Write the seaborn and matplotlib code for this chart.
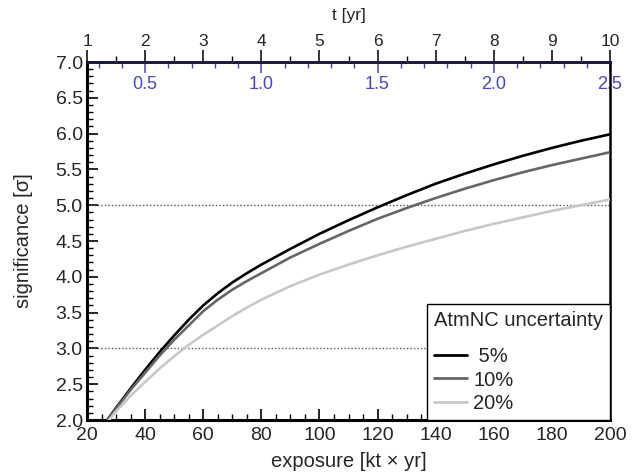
import numpy as np
import pandas as pd
import matplotlib
matplotlib.use("Agg")
import matplotlib.pyplot as plt
from matplotlib.ticker import MultipleLocator, FixedLocator, FormatStrFormatter
import seaborn as sns

# ---- data ----
exposure = [27, 30, 35, 40, 45, 50, 55, 60, 65, 70, 75, 80, 90, 100, 110, 120,
            130, 140, 150, 160, 170, 180, 190, 200]
sig_5 = [2.00, 2.17, 2.44, 2.70, 2.95, 3.18, 3.40, 3.60, 3.77, 3.92, 4.05, 4.17,
         4.39, 4.60, 4.79, 4.97, 5.14, 5.30, 5.44, 5.57, 5.69, 5.80, 5.90, 5.99]
sig_10 = [1.99, 2.16, 2.42, 2.66, 2.90, 3.12, 3.32, 3.52, 3.68, 3.82, 3.94, 4.05,
          4.27, 4.46, 4.64, 4.81, 4.96, 5.10, 5.23, 5.35, 5.46, 5.56, 5.65, 5.74]
sig_20 = [1.97, 2.12, 2.34, 2.53, 2.72, 2.89, 3.05, 3.19, 3.32, 3.45, 3.57, 3.68,
          3.87, 4.03, 4.17, 4.30, 4.42, 4.53, 4.64, 4.74, 4.83, 4.92, 5.00, 5.08]
labels = [" 5%", "10%", "20%"]
colors = ["#000000", "#666666", "#c8c8c8"]
ref_levels = [3.0, 5.0]
t_ticks = [1, 2, 3, 4, 5, 6, 7, 8, 9, 10]
t_minor = [1.5, 2.5, 3.5, 4.5, 5.5, 6.5, 7.5, 8.5, 9.5]
b_ticks = [0.5, 1.0, 1.5, 2.0, 2.5]
b_minor = [0.3, 0.4, 0.6, 0.7, 0.8, 0.9, 1.1, 1.2, 1.3, 1.4, 1.6, 1.7, 1.8, 1.9,
           2.1, 2.2, 2.3, 2.4]

df = pd.concat([
    pd.DataFrame({"exposure": exposure, "sig": s, "unc": lab})
    for s, lab in zip([sig_5, sig_10, sig_20], labels)
])

sns.set_theme(style="white")
plt.rcParams["font.family"] = ["Liberation Sans", "DejaVu Sans"]

fig = plt.figure(figsize=(6.39, 4.73), dpi=100)
ax = fig.add_axes([87 / 639, 53 / 473, 523 / 639, 358 / 473])

for lv in ref_levels:
    ax.axhline(lv, color="#555555", lw=1.0, ls=(0, (1, 1.5)), zorder=1)

sns.lineplot(data=df, x="exposure", y="sig", hue="unc", palette=colors,
             hue_order=labels, lw=1.9, ax=ax, zorder=3, legend=True)

ax.set_xlim(20, 200)
ax.set_ylim(2.0, 7.0)
ax.set_xlabel("exposure [kt \u00d7 yr]", fontsize=14.5, labelpad=6)
ax.set_ylabel("significance [\u03c3]", fontsize=14.5, labelpad=16)

ax.xaxis.set_major_locator(MultipleLocator(20))
ax.xaxis.set_minor_locator(MultipleLocator(5))
ax.yaxis.set_major_locator(MultipleLocator(0.5))
ax.yaxis.set_minor_locator(MultipleLocator(0.1))
ax.yaxis.set_major_formatter(FormatStrFormatter("%.1f"))
ax.tick_params(axis="both", which="major", direction="in", length=8, width=1.2,
               labelsize=14, color="black")
ax.tick_params(axis="x", which="major", pad=5)
ax.tick_params(axis="y", which="major", pad=3)
ax.tick_params(axis="both", which="minor", direction="in", length=4, width=1.0,
               color="black")
ax.tick_params(axis="x", which="both", top=False, bottom=True)
ax.tick_params(axis="y", which="both", left=True, right=False)

for side in ["left", "bottom"]:
    ax.spines[side].set_linewidth(2.2)
    ax.spines[side].set_color("black")
ax.spines["right"].set_linewidth(1.8)
ax.spines["right"].set_color("black")
ax.spines["top"].set_linewidth(1.8)
ax.spines["top"].set_color("#1a1a40")

# top black t axis
sec_t = ax.secondary_xaxis("top", functions=(lambda x: x / 20.0, lambda t: t * 20.0))
sec_t.xaxis.set_major_locator(FixedLocator(t_ticks))
sec_t.xaxis.set_minor_locator(FixedLocator(t_minor))
sec_t.tick_params(which="major", direction="out", length=9, width=1.1,
                  labelsize=12.5, color="black", pad=0.5)
sec_t.tick_params(which="minor", direction="out", length=4.5, width=1.0, color="black")
sec_t.set_xlabel("t [yr]", fontsize=12.5, labelpad=10)
sec_t.spines["top"].set_color("#1a1a40")
sec_t.spines["top"].set_linewidth(1.8)

# blue inside axis
blue = "#4646c8"
sec_b = ax.secondary_xaxis("top", functions=(lambda x: x / 80.0, lambda t: t * 80.0))
sec_b.xaxis.set_major_locator(FixedLocator(b_ticks))
sec_b.xaxis.set_minor_locator(FixedLocator(b_minor))
sec_b.xaxis.set_major_formatter(FormatStrFormatter("%.1f"))
sec_b.tick_params(which="major", direction="in", length=8, width=1.1,
                  labelsize=13, color=blue, labelcolor=blue, pad=-22)
sec_b.tick_params(which="minor", direction="in", length=4, width=1.0, color=blue)
sec_b.spines["top"].set_color("#1a1a40")
sec_b.spines["top"].set_linewidth(1.8)

leg = ax.legend(title="AtmNC uncertainty", loc="lower right", fontsize=14.5,
                title_fontsize=14.5, frameon=True, fancybox=False,
                edgecolor="black", framealpha=1.0, borderaxespad=0.0,
                handlelength=1.65, handletextpad=0.3, borderpad=0.35,
                labelspacing=0.22, alignment="left")
leg.get_frame().set_linewidth(1.0)
leg._legend_box.sep = 12
for h in leg.get_lines():
    h.set_linewidth(2.0)

fig.savefig("out.png", dpi=100)
